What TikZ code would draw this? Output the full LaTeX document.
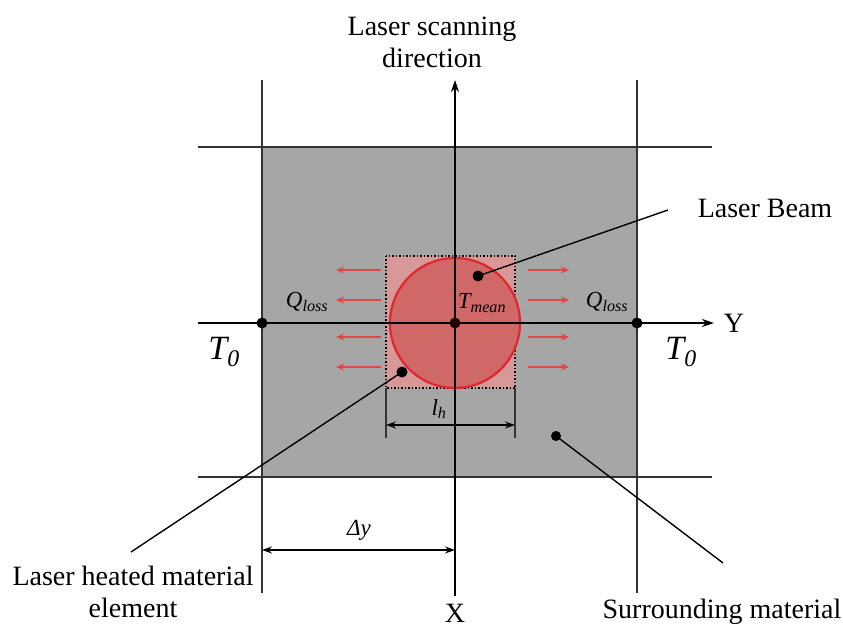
\documentclass[tikz,border=0pt]{standalone}
\usepackage{fontspec}
\setmainfont{Liberation Serif}
\usetikzlibrary{arrows.meta}
\definecolor{grayfill}{HTML}{A6A6A6}
\definecolor{sqfill}{HTML}{D89898}
\definecolor{circfill}{HTML}{D06868}
\definecolor{circline}{HTML}{E0262E}
\definecolor{flux}{HTML}{E04848}
\tikzset{
  dotnode/.style={circle,fill=black,inner sep=0pt,minimum size=11pt},
  lbl/.style={font=\fontsize{28}{32}\selectfont,align=center,inner sep=0pt},
  sym/.style={font=\fontsize{23}{26}\selectfont\itshape,inner sep=0pt},
  bigsym/.style={font=\fontsize{34}{38}\selectfont\itshape,inner sep=0pt},
  gridline/.style={line width=1.5pt,black!80},
  axisline/.style={line width=2pt,black,-{Stealth[length=12pt,width=8pt]}},
  fluxarrow/.style={line width=1.3pt,flux,-{Stealth[length=8pt,width=7pt]}},
  dimline/.style={line width=1.4pt,{Stealth[length=10pt,width=7pt]}-{Stealth[length=10pt,width=7pt]}},
  leader/.style={line width=1.4pt,black}
}
\begin{document}
\begin{tikzpicture}[x=1pt,y=-1pt]
\useasboundingbox (0,0) rectangle (843,628);
% gray surrounding square
\fill[grayfill] (262,147) rectangle (637,477);
% heated element and beam
\fill[sqfill] (386,256) rectangle (515,388);
\draw[line width=1.5pt,dotted,black] (386,256) rectangle (515,388);
\draw[line width=2.2pt,circline,fill=circfill] (455,323) circle (65);
% grid lines
\draw[gridline] (262,80) -- (262,593);
\draw[gridline] (637,80) -- (637,593);
\draw[gridline] (198,147) -- (712,147);
\draw[gridline] (198,477) -- (712,477);
% axes
\coordinate (xbot) at (455,596);
\coordinate (xtop) at (455,80);
\coordinate (yleft) at (198,323);
\coordinate (yright) at (714,323);
\draw[axisline] (xbot) -- (xtop);
\draw[axisline] (yleft) -- (yright);
% dots
\node[dotnode] (dl) at (262,323) {};
\node[dotnode] (dr) at (637,323) {};
\node[dotnode,fill=black!80!red!60!black] (dc) at (455,323) {};
% flux arrows
\foreach \yy in {270,300,337,367}{
  \draw[fluxarrow] (381,\yy) -- (336,\yy);
  \draw[fluxarrow] (528,\yy) -- (569,\yy);
}
% labels
\node[lbl] (scan) at (432,42) {Laser scanning\\direction};
\node[lbl] (ylab) at (734,323) {Y};
\node[lbl] (xlab) at (455,613) {X};
\node[sym] (qleft) at (307,302) {Q\textsubscript{loss}};
\node[sym] (qright) at (607,302) {Q\textsubscript{loss}};
\node[sym] (tmean) at (482,303) {T\textsubscript{mean}};
\node[bigsym] (tl) at (224,352) {T\textsubscript{0}};
\node[bigsym] (tr) at (681,352) {T\textsubscript{0}};
% l_h dimension
\coordinate (lhA) at (386,425);
\coordinate (lhB) at (515,425);
\draw[gridline] (386,388) -- (386,438);
\draw[gridline] (515,388) -- (515,438);
\draw[dimline] (lhA) -- (lhB);
\node[sym] (lh) at (439,409) {l\textsubscript{h}};
% delta y dimension
\coordinate (dyA) at (262,550);
\coordinate (dyB) at (455,550);
\draw[dimline] (dyA) -- (dyB);
\node[sym] (dy) at (359,530) {Δy};
% leaders
\node[dotnode] (beamdot) at (478,276) {};
\node[dotnode] (heatdot) at (402,372) {};
\node[dotnode,minimum size=10pt] (surrdot) at (556,436) {};
\coordinate (beamend) at (668,210);
\coordinate (heatend) at (131,552);
\coordinate (surrend) at (723,563);
\draw[leader] (beamdot.center) -- (beamend);
\draw[leader] (heatdot.center) -- (heatend);
\draw[leader] (surrdot.center) -- (surrend);
\node[lbl] (beam) at (765,208) {Laser Beam};
\node[lbl] (heat) at (133,592) {Laser heated material\\element};
\node[lbl] (surr) at (722,612) {Surrounding material};
\end{tikzpicture}
\end{document}
